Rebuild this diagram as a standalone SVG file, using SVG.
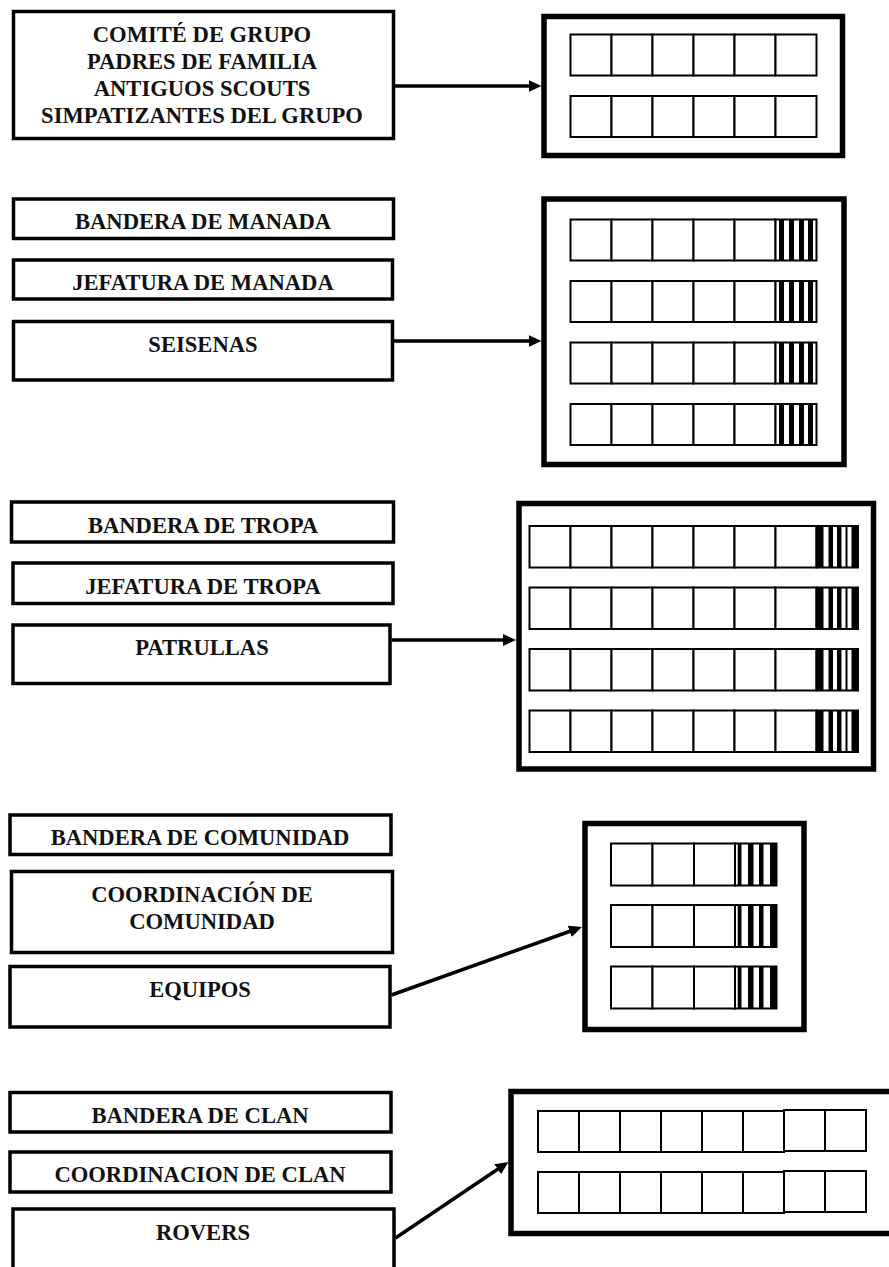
<svg xmlns="http://www.w3.org/2000/svg" xmlns:xlink="http://www.w3.org/1999/xlink" width="889" height="1267" viewBox="0 0 889 1267">
<style>
  .box { fill: #fff; stroke: #000; stroke-width: 3.5; }
  .outer { fill: #fff; stroke: #000; stroke-width: 5.5; }
  .cell { fill: #fff; stroke: #000; stroke-width: 2; }
  .lbl { font-family: "Liberation Serif", "Times New Roman", serif; font-weight: bold; font-size: 22.6px; text-anchor: middle; fill: #111; }
  .conn { fill: none; stroke: #000; stroke-width: 3.5; }
  .bar { fill: #000; }
</style>
<defs>
  <marker id="ah" markerUnits="userSpaceOnUse" markerWidth="13" markerHeight="12" refX="4" refY="6" orient="auto">
    <path d="M0,0 L13,6 L0,12 z" fill="#000"/>
  </marker>
  <g id="hatchM">
    <rect class="cell" x="0" y="0" width="41" height="41"/>
    <rect class="bar" x="3.5" y="0" width="5" height="41"/>
    <rect class="bar" x="13.5" y="0" width="5" height="41"/>
    <rect class="bar" x="23.5" y="0" width="5" height="41"/>
    <rect class="bar" x="32.5" y="0" width="5" height="41"/>
  </g>
  <g id="hatchT">
    <rect class="cell" x="0" y="0" width="41.5" height="41.5"/>
    <rect class="bar" x="0" y="0" width="7" height="41.5"/>
    <rect class="bar" x="12" y="0" width="4.5" height="41.5"/>
    <rect class="bar" x="20.5" y="0" width="4.5" height="41.5"/>
    <rect class="bar" x="29" y="0" width="2" height="41.5"/>
    <rect class="bar" x="35" y="0" width="6.5" height="41.5"/>
  </g>
  <g id="hatchC">
    <rect class="cell" x="0" y="0" width="41.5" height="42"/>
    <rect class="bar" x="2.7" y="0" width="3.8" height="42"/>
    <rect class="bar" x="13" y="0" width="5.5" height="42"/>
    <rect class="bar" x="24" y="0" width="4.5" height="42"/>
    <rect class="bar" x="35" y="0" width="6.5" height="42"/>
  </g>
</defs>
<rect width="889" height="1267" fill="#fff"/>

<!-- Section 1 -->
<g id="comite">
  <rect class="box" x="13.5" y="11.5" width="380" height="127"/>
  <text class="lbl" x="202" y="42">COMITÉ DE GRUPO</text>
  <text class="lbl" x="202" y="69">PADRES DE FAMILIA</text>
  <text class="lbl" x="202" y="96">ANTIGUOS SCOUTS</text>
  <text class="lbl" x="202" y="123">SIMPATIZANTES DEL GRUPO</text>
</g>
<g id="grupo-panel">
  <rect class="outer" x="544" y="16.5" width="298.5" height="139"/>
  <rect class="cell" x="570.5" y="34.5" width="41" height="41"/>
  <rect class="cell" x="611.5" y="34.5" width="41" height="41"/>
  <rect class="cell" x="652.5" y="34.5" width="41" height="41"/>
  <rect class="cell" x="693.5" y="34.5" width="41" height="41"/>
  <rect class="cell" x="734.5" y="34.5" width="41" height="41"/>
  <rect class="cell" x="775.5" y="34.5" width="41" height="41"/>
  <rect class="cell" x="570.5" y="96" width="41" height="41"/>
  <rect class="cell" x="611.5" y="96" width="41" height="41"/>
  <rect class="cell" x="652.5" y="96" width="41" height="41"/>
  <rect class="cell" x="693.5" y="96" width="41" height="41"/>
  <rect class="cell" x="734.5" y="96" width="41" height="41"/>
  <rect class="cell" x="775.5" y="96" width="41" height="41"/>
</g>

<!-- Section 2: Manada -->
<g id="bandera-manada">
  <rect class="box" x="13.5" y="199" width="380" height="39.5"/>
  <text class="lbl" x="203" y="229">BANDERA DE MANADA</text>
</g>
<g id="jefatura-manada">
  <rect class="box" x="13.5" y="260" width="379" height="39"/>
  <text class="lbl" x="203" y="290">JEFATURA DE MANADA</text>
</g>
<g id="seisenas">
  <rect class="box" x="13.5" y="321.5" width="379" height="58.5"/>
  <text class="lbl" x="203" y="352">SEISENAS</text>
</g>
<g id="manada-panel">
  <rect class="outer" x="544" y="199" width="300" height="265.5"/>
  <g transform="translate(0,219.5)">
    <rect class="cell" x="570.5" y="0" width="41" height="41"/>
    <rect class="cell" x="611.5" y="0" width="41" height="41"/>
    <rect class="cell" x="652.5" y="0" width="41" height="41"/>
    <rect class="cell" x="693.5" y="0" width="41" height="41"/>
    <rect class="cell" x="734.5" y="0" width="41" height="41"/>
    <use xlink:href="#hatchM" href="#hatchM" x="775.5" y="0"/>
  </g>
  <g transform="translate(0,281)">
    <rect class="cell" x="570.5" y="0" width="41" height="41"/>
    <rect class="cell" x="611.5" y="0" width="41" height="41"/>
    <rect class="cell" x="652.5" y="0" width="41" height="41"/>
    <rect class="cell" x="693.5" y="0" width="41" height="41"/>
    <rect class="cell" x="734.5" y="0" width="41" height="41"/>
    <use xlink:href="#hatchM" href="#hatchM" x="775.5" y="0"/>
  </g>
  <g transform="translate(0,342.5)">
    <rect class="cell" x="570.5" y="0" width="41" height="41"/>
    <rect class="cell" x="611.5" y="0" width="41" height="41"/>
    <rect class="cell" x="652.5" y="0" width="41" height="41"/>
    <rect class="cell" x="693.5" y="0" width="41" height="41"/>
    <rect class="cell" x="734.5" y="0" width="41" height="41"/>
    <use xlink:href="#hatchM" href="#hatchM" x="775.5" y="0"/>
  </g>
  <g transform="translate(0,404)">
    <rect class="cell" x="570.5" y="0" width="41" height="41"/>
    <rect class="cell" x="611.5" y="0" width="41" height="41"/>
    <rect class="cell" x="652.5" y="0" width="41" height="41"/>
    <rect class="cell" x="693.5" y="0" width="41" height="41"/>
    <rect class="cell" x="734.5" y="0" width="41" height="41"/>
    <use xlink:href="#hatchM" href="#hatchM" x="775.5" y="0"/>
  </g>
</g>

<!-- Section 3: Tropa -->
<g id="bandera-tropa">
  <rect class="box" x="11.5" y="502" width="382" height="40"/>
  <text class="lbl" x="203" y="532.5">BANDERA DE TROPA</text>
</g>
<g id="jefatura-tropa">
  <rect class="box" x="13" y="563" width="380" height="40.5"/>
  <text class="lbl" x="203" y="593.5">JEFATURA DE TROPA</text>
</g>
<g id="patrullas">
  <rect class="box" x="13" y="625" width="377" height="58.5"/>
  <text class="lbl" x="202" y="655">PATRULLAS</text>
</g>
<g id="tropa-panel">
  <rect class="outer" x="519" y="503.5" width="354.5" height="265.5"/>
  <g transform="translate(0,526)">
    <rect class="cell" x="529.5" y="0" width="41" height="41.5"/>
    <rect class="cell" x="570.5" y="0" width="41" height="41.5"/>
    <rect class="cell" x="611.5" y="0" width="41" height="41.5"/>
    <rect class="cell" x="652.5" y="0" width="41" height="41.5"/>
    <rect class="cell" x="693.5" y="0" width="41" height="41.5"/>
    <rect class="cell" x="734.5" y="0" width="41" height="41.5"/>
    <rect class="cell" x="775.5" y="0" width="41" height="41.5"/>
    <use xlink:href="#hatchT" href="#hatchT" x="816.5" y="0"/>
  </g>
  <g transform="translate(0,587.5)">
    <rect class="cell" x="529.5" y="0" width="41" height="41.5"/>
    <rect class="cell" x="570.5" y="0" width="41" height="41.5"/>
    <rect class="cell" x="611.5" y="0" width="41" height="41.5"/>
    <rect class="cell" x="652.5" y="0" width="41" height="41.5"/>
    <rect class="cell" x="693.5" y="0" width="41" height="41.5"/>
    <rect class="cell" x="734.5" y="0" width="41" height="41.5"/>
    <rect class="cell" x="775.5" y="0" width="41" height="41.5"/>
    <use xlink:href="#hatchT" href="#hatchT" x="816.5" y="0"/>
  </g>
  <g transform="translate(0,649)">
    <rect class="cell" x="529.5" y="0" width="41" height="41.5"/>
    <rect class="cell" x="570.5" y="0" width="41" height="41.5"/>
    <rect class="cell" x="611.5" y="0" width="41" height="41.5"/>
    <rect class="cell" x="652.5" y="0" width="41" height="41.5"/>
    <rect class="cell" x="693.5" y="0" width="41" height="41.5"/>
    <rect class="cell" x="734.5" y="0" width="41" height="41.5"/>
    <rect class="cell" x="775.5" y="0" width="41" height="41.5"/>
    <use xlink:href="#hatchT" href="#hatchT" x="816.5" y="0"/>
  </g>
  <g transform="translate(0,710.5)">
    <rect class="cell" x="529.5" y="0" width="41" height="41.5"/>
    <rect class="cell" x="570.5" y="0" width="41" height="41.5"/>
    <rect class="cell" x="611.5" y="0" width="41" height="41.5"/>
    <rect class="cell" x="652.5" y="0" width="41" height="41.5"/>
    <rect class="cell" x="693.5" y="0" width="41" height="41.5"/>
    <rect class="cell" x="734.5" y="0" width="41" height="41.5"/>
    <rect class="cell" x="775.5" y="0" width="41" height="41.5"/>
    <use xlink:href="#hatchT" href="#hatchT" x="816.5" y="0"/>
  </g>
</g>

<!-- Section 4: Comunidad -->
<g id="bandera-comunidad">
  <rect class="box" x="10" y="815" width="381" height="39.5"/>
  <text class="lbl" x="200" y="844.5">BANDERA DE COMUNIDAD</text>
</g>
<g id="coordinacion-comunidad">
  <rect class="box" x="11.5" y="871.5" width="381" height="81"/>
  <text class="lbl" x="202" y="901.5">COORDINACIÓN DE</text>
  <text class="lbl" x="202" y="928.5">COMUNIDAD</text>
</g>
<g id="equipos">
  <rect class="box" x="10" y="966.5" width="380" height="60.5"/>
  <text class="lbl" x="200" y="996.5">EQUIPOS</text>
</g>
<g id="comunidad-panel">
  <rect class="outer" x="585" y="823.5" width="219" height="206"/>
  <g transform="translate(0,843.5)">
    <rect class="cell" x="611" y="0" width="41.5" height="42"/>
    <rect class="cell" x="652.5" y="0" width="41.5" height="42"/>
    <rect class="cell" x="694" y="0" width="41" height="42"/>
    <use xlink:href="#hatchC" href="#hatchC" x="735" y="0"/>
  </g>
  <g transform="translate(0,905)">
    <rect class="cell" x="611" y="0" width="41.5" height="42"/>
    <rect class="cell" x="652.5" y="0" width="41.5" height="42"/>
    <rect class="cell" x="694" y="0" width="41" height="42"/>
    <use xlink:href="#hatchC" href="#hatchC" x="735" y="0"/>
  </g>
  <g transform="translate(0,966.5)">
    <rect class="cell" x="611" y="0" width="41.5" height="42"/>
    <rect class="cell" x="652.5" y="0" width="41.5" height="42"/>
    <rect class="cell" x="694" y="0" width="41" height="42"/>
    <use xlink:href="#hatchC" href="#hatchC" x="735" y="0"/>
  </g>
</g>

<!-- Section 5: Clan -->
<g id="bandera-clan">
  <rect class="box" x="10" y="1092.5" width="381" height="39.5"/>
  <text class="lbl" x="200" y="1122.5">BANDERA DE CLAN</text>
</g>
<g id="coordinacion-clan">
  <rect class="box" x="10" y="1152" width="381" height="40"/>
  <text class="lbl" x="200" y="1181.5">COORDINACION DE CLAN</text>
</g>
<g id="rovers">
  <rect class="box" x="13" y="1209" width="381" height="80"/>
  <text class="lbl" x="203" y="1240">ROVERS</text>
</g>
<g id="clan-panel">
  <rect class="outer" x="511" y="1091.5" width="390" height="142"/>
  <g transform="translate(0,1111)">
    <rect class="cell" x="538" y="0" width="41" height="41"/>
    <rect class="cell" x="579" y="0" width="41" height="41"/>
    <rect class="cell" x="620" y="0" width="41" height="41"/>
    <rect class="cell" x="661" y="0" width="41" height="41"/>
    <rect class="cell" x="702" y="0" width="41" height="41"/>
    <rect class="cell" x="743" y="0" width="41" height="41"/>
    <rect class="cell" x="784" y="-1" width="41" height="41"/>
    <rect class="cell" x="825" y="-1" width="41" height="41"/>
  </g>
  <g transform="translate(0,1172)">
    <rect class="cell" x="538" y="0" width="41" height="41"/>
    <rect class="cell" x="579" y="0" width="41" height="41"/>
    <rect class="cell" x="620" y="0" width="41" height="41"/>
    <rect class="cell" x="661" y="0" width="41" height="41"/>
    <rect class="cell" x="702" y="0" width="41" height="41"/>
    <rect class="cell" x="743" y="0" width="41" height="41"/>
    <rect class="cell" x="784" y="-1" width="41" height="41"/>
    <rect class="cell" x="825" y="-1" width="41" height="41"/>
  </g>
</g>

<g id="connectors">
  <line class="conn" x1="395" y1="86" x2="532.5" y2="86" marker-end="url(#ah)"/>
  <line class="conn" x1="394" y1="341" x2="532.5" y2="341" marker-end="url(#ah)"/>
  <line class="conn" x1="391.5" y1="640" x2="507" y2="640" marker-end="url(#ah)"/>
  <line class="conn" x1="391.5" y1="995" x2="573.5" y2="930" marker-end="url(#ah)"/>
  <line class="conn" x1="395.5" y1="1238" x2="501" y2="1167" marker-end="url(#ah)"/>
</g>
</svg>
